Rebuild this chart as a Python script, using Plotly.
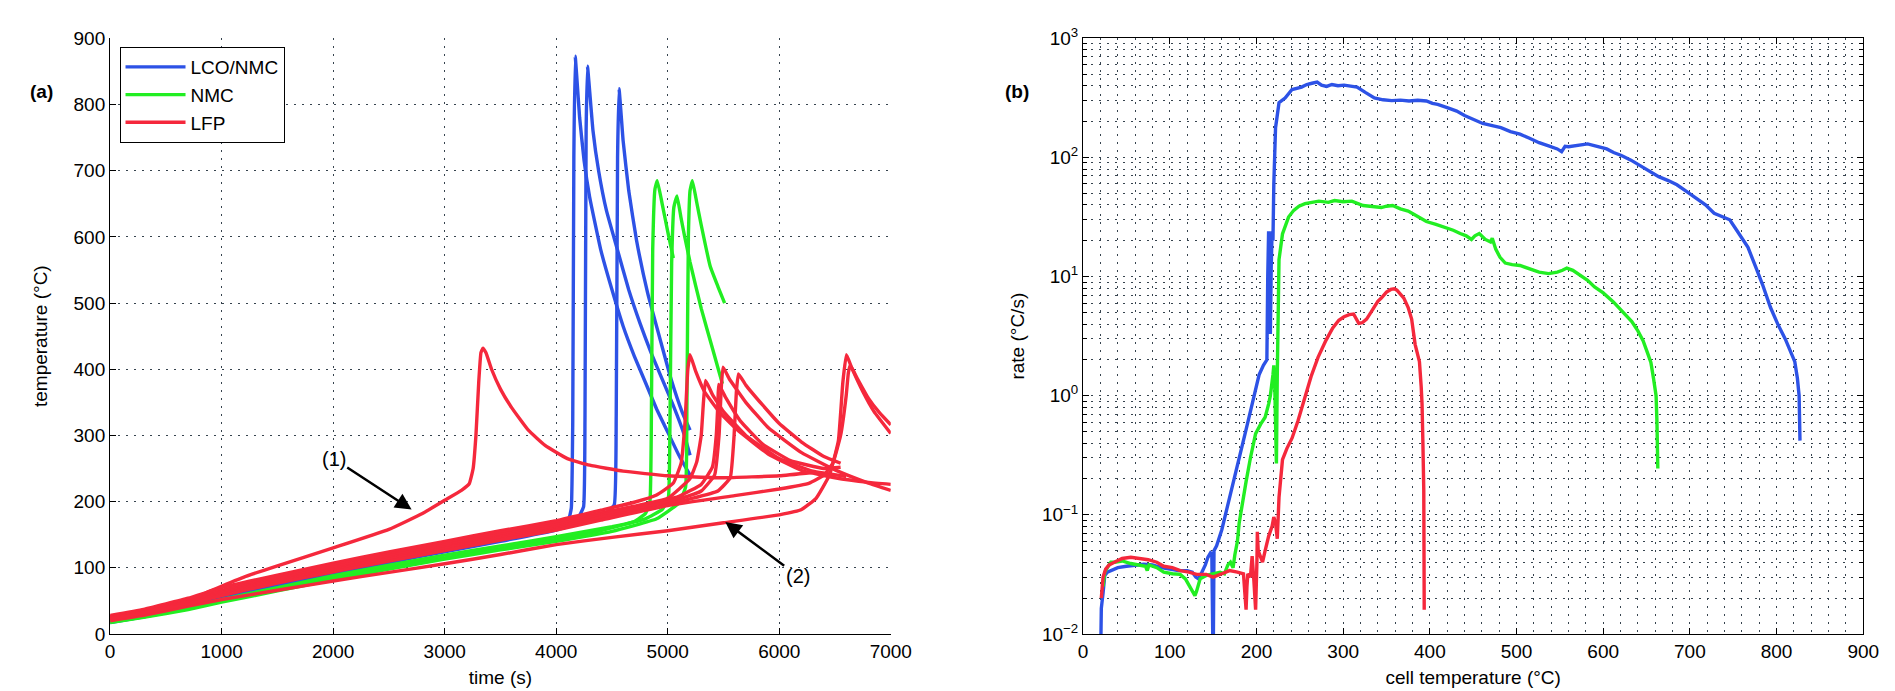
import plotly.graph_objects as go

# ---------------- Panel (a): temperature vs time ----------------
lco_1_time = [0, 300, 700, 1000, 1500, 2000, 2500, 3000, 3500, 3900, 4050, 4110, 4135, 4148, 4158, 4170, 4185, 4210, 4250, 4300, 4400, 4500, 4600, 4700, 4800, 4900, 5000, 5100, 5200]
lco_1_temp = [18, 27, 40, 53, 73, 92, 110, 126, 142, 155, 163, 172, 190, 320, 720, 873, 840, 780, 715, 660, 580, 520, 465, 420, 380, 340, 305, 270, 240]
lco_2_time = [0, 300, 700, 1000, 1500, 2000, 2500, 3000, 3500, 3900, 4100, 4200, 4245, 4258, 4268, 4280, 4300, 4330, 4380, 4450, 4550, 4650, 4750, 4850, 4950, 5050, 5150, 5200]
lco_2_temp = [19, 28, 42, 55, 75, 94, 112, 128, 144, 158, 167, 177, 192, 330, 760, 858, 820, 760, 700, 640, 580, 520, 470, 425, 385, 345, 300, 270]
lco_3_time = [0, 300, 700, 1000, 1500, 2000, 2500, 3000, 3500, 4000, 4300, 4450, 4520, 4538, 4550, 4563, 4600, 4650, 4720, 4820, 4940, 5030, 5130, 5200]
lco_3_temp = [17, 26, 39, 52, 71, 90, 108, 124, 140, 157, 172, 183, 195, 330, 720, 824, 745, 670, 595, 515, 440, 385, 335, 308]

nmc_1_time = [0, 300, 700, 1000, 1500, 2000, 2500, 3000, 3500, 4000, 4400, 4700, 4800, 4840, 4852, 4865, 4885, 4906, 4950, 5000, 5050]
nmc_1_temp = [18, 26, 38, 50, 67, 84, 100, 115, 129, 143, 156, 170, 182, 200, 300, 580, 672, 685, 650, 608, 568]
nmc_2_time = [0, 300, 700, 1000, 1500, 2000, 2500, 3000, 3500, 4000, 4500, 4800, 4950, 5005, 5020, 5035, 5055, 5083, 5120, 5150, 5200, 5300, 5400, 5490]
nmc_2_temp = [19, 27, 40, 52, 70, 88, 104, 119, 133, 147, 162, 174, 188, 205, 320, 560, 645, 662, 628, 602, 562, 492, 432, 378]
nmc_3_time = [0, 300, 700, 1000, 1500, 2000, 2500, 3000, 3500, 4000, 4500, 4900, 5100, 5160, 5172, 5185, 5200, 5221, 5260, 5300, 5380, 5450, 5510]
nmc_3_temp = [17, 25, 37, 48, 65, 82, 98, 113, 127, 140, 155, 174, 198, 222, 350, 600, 670, 685, 652, 618, 556, 525, 500]

lfp_1_time = [0, 300, 700, 900, 1200, 1500, 2000, 2500, 2800, 3000, 3150, 3220, 3255, 3280, 3305, 3325, 3343, 3370, 3420, 3500, 3600, 3750, 3900, 4100, 4300, 4600, 5000, 5500, 6000, 6300]
lfp_1_temp = [26, 34, 50, 65, 86, 103, 130, 158, 182, 202, 217, 227, 250, 300, 380, 425, 432, 425, 400, 370, 342, 308, 285, 265, 255, 246, 239, 236, 239, 244]
lfp_2_time = [0, 300, 700, 1000, 1500, 2000, 2500, 3000, 3500, 4000, 4400, 4700, 4900, 5050, 5120, 5155, 5180, 5200, 5250, 5330, 5470, 5620, 5900, 6200, 6500, 6800, 7000]
lfp_2_temp = [28, 37, 54, 70, 89, 107, 124, 140, 156, 171, 187, 199, 210, 228, 258, 320, 400, 422, 397, 366, 334, 309, 272, 247, 236, 229, 226]
lfp_3_time = [0, 300, 700, 1000, 1500, 2000, 2500, 3000, 3500, 4000, 4400, 4700, 5000, 5200, 5260, 5300, 5320, 5339, 5400, 5500, 5700, 6000, 6300, 6600]
lfp_3_temp = [26, 35, 51, 66, 86, 104, 120, 137, 153, 168, 183, 193, 205, 235, 260, 300, 350, 383, 362, 336, 300, 265, 246, 238]
lfp_4_time = [0, 300, 700, 1000, 1500, 2000, 2500, 3000, 3500, 4000, 4400, 4800, 5100, 5300, 5400, 5435, 5450, 5457, 5520, 5650, 5850, 6100, 6400, 6550]
lfp_4_temp = [25, 34, 49, 64, 83, 101, 118, 134, 150, 165, 181, 194, 208, 226, 252, 300, 350, 377, 357, 322, 287, 262, 250, 252]
lfp_5_time = [0, 300, 700, 1000, 1500, 2000, 2500, 3000, 3500, 4000, 4400, 4800, 5100, 5300, 5420, 5460, 5480, 5496, 5550, 5700, 5900, 6200, 6500, 6800, 7000]
lfp_5_temp = [24, 33, 48, 62, 81, 98, 115, 131, 147, 162, 179, 192, 204, 216, 240, 300, 372, 403, 386, 350, 312, 274, 248, 228, 217]
lfp_6_time = [0, 300, 700, 1000, 1500, 2000, 2500, 3000, 3500, 4000, 4400, 4800, 5200, 5450, 5560, 5595, 5615, 5634, 5700, 5850, 6000, 6200, 6400, 6550]
lfp_6_temp = [23, 32, 47, 60, 79, 96, 113, 129, 145, 159, 176, 188, 204, 216, 236, 300, 365, 393, 376, 346, 318, 290, 268, 258]
lfp_7_time = [0, 300, 700, 1000, 1500, 2000, 2500, 3000, 3500, 4000, 4500, 5000, 5500, 6000, 6200, 6330, 6450, 6530, 6570, 6602, 6650, 6750, 6850, 7000]
lfp_7_temp = [20, 28, 42, 52, 66, 80, 93, 106, 120, 135, 146, 156, 168, 180, 188, 205, 240, 292, 380, 422, 402, 366, 336, 303]
lfp_8_time = [0, 300, 700, 1000, 1500, 2000, 2500, 3000, 3500, 4000, 4400, 5000, 5600, 6000, 6270, 6400, 6480, 6550, 6600, 6620, 6637, 6700, 6800, 6900, 7000]
lfp_8_temp = [22, 31, 45, 58, 77, 94, 110, 126, 142, 157, 172, 194, 209, 219, 228, 240, 258, 300, 360, 395, 406, 386, 356, 334, 316]

# ---------------- Panel (b): rate vs cell temperature ----------------
rate_lco_T = [20, 21, 23, 25, 28, 33, 40, 50, 60, 70, 80, 90, 100, 110, 120, 126, 130, 133, 137, 141, 144, 147, 148.5, 149, 150, 151, 154, 160, 165, 169, 175, 180, 188, 195, 203, 208, 212, 213, 214, 215, 216, 217, 218, 219, 220, 222, 226, 233, 241, 252, 258, 264, 270, 275, 281, 287, 294, 301, 308, 316, 326, 336, 346, 356, 366, 376, 386, 396, 403, 409, 420, 431, 440, 450, 461, 472, 482, 493, 504, 515, 526, 537, 547, 552, 556, 560, 570, 582, 593, 604, 612, 621, 632, 643, 654, 664, 675, 685, 696, 707, 718, 728, 737, 746, 754, 760, 767, 776, 784, 793, 802, 810, 816, 821, 824, 826, 827]
rate_lco_v = [0.005, 0.0164, 0.022, 0.031, 0.033, 0.034, 0.036, 0.037, 0.038, 0.0385, 0.038, 0.036, 0.035, 0.034, 0.034, 0.033, 0.030, 0.029, 0.033, 0.038, 0.044, 0.048, 0.047, 0.005, 0.005, 0.05, 0.055, 0.075, 0.105, 0.14, 0.22, 0.3, 0.52, 0.85, 1.5, 1.8, 2.0, 10, 24, 4, 3.3, 12, 24, 20, 60, 178, 288, 316, 372, 390, 410, 420, 430, 405, 395, 410, 400, 405, 395, 390, 350, 316, 305, 300, 303, 298, 302, 298, 285, 279, 262, 245, 225, 210, 193, 185, 178, 165, 157, 145, 133, 125, 118, 112, 124, 123, 127, 130, 124, 118, 110, 104, 95, 85, 76, 69, 64, 59, 52, 46, 40, 34, 32, 30, 24.5, 21, 17.6, 12, 8.5, 5.5, 3.9, 3.0, 2.4, 1.93, 1.4, 1.0, 0.42]

rate_nmc_T = [23, 25, 28, 32, 36, 45, 55, 65, 72, 74, 76, 85, 93, 103, 112, 118, 123, 127, 129, 131, 135, 142, 150, 158, 163, 167, 170, 173, 175, 178, 180, 184, 188, 193, 199, 205, 210, 214, 216, 219, 220, 221, 222, 223, 224, 225, 226, 230, 237, 243, 249, 256, 264, 272, 283, 290, 300, 310, 323, 334, 344, 350, 357, 366, 375, 386, 396, 407, 418, 427, 435, 442, 448, 452, 457, 464, 470, 472, 476, 481, 487, 495, 504, 515, 526, 537, 547, 553, 558, 565, 573, 582, 590, 600, 612, 622, 633, 640, 646, 651, 655, 658, 661, 662, 663]
rate_nmc_v = [0.025, 0.033, 0.036, 0.04, 0.04, 0.041, 0.039, 0.038, 0.037, 0.034, 0.038, 0.036, 0.033, 0.032, 0.0316, 0.029, 0.025, 0.022, 0.021, 0.023, 0.029, 0.031, 0.032, 0.033, 0.032, 0.038, 0.04, 0.036, 0.046, 0.06, 0.085, 0.13, 0.19, 0.3, 0.48, 0.58, 0.66, 0.85, 1.0, 1.5, 1.8, 1.3, 0.6, 0.27, 1.5, 6, 13.9, 22.8, 31.6, 36, 39, 41, 42, 43, 42, 43.5, 42.5, 43, 39.5, 38.5, 38, 39, 39.5, 37, 35.5, 32, 29, 27.5, 26, 24.5, 23, 22, 20.5, 22, 23, 20.5, 19.5, 21, 17, 14.5, 13, 12.6, 12.4, 11.7, 10.9, 10.6, 10.9, 11.3, 11.8, 11.3, 10.4, 9.3, 8.2, 7.3, 6.1, 5.1, 4.2, 3.5, 2.9, 2.3, 1.9, 1.4, 1.0, 0.6, 0.245]

rate_lfp_T = [21, 23, 26, 30, 36, 45, 55, 65, 75, 85, 93, 103, 112, 122, 131, 142, 150, 160, 169, 178, 185, 187, 188, 189, 190, 193, 195, 197, 199, 200.5, 201, 202, 204, 207, 210, 214, 218, 220, 222, 224, 226, 230, 235, 241, 248, 256, 263, 271, 280, 288, 295, 301, 307, 312, 314, 318, 322, 327, 332, 336, 340, 344, 350, 355, 359, 362, 366, 370, 375, 379, 383, 386, 388, 390, 391, 392, 393, 393.5]
rate_lfp_v = [0.02, 0.03, 0.035, 0.038, 0.04, 0.043, 0.044, 0.043, 0.042, 0.04, 0.037, 0.036, 0.034, 0.033, 0.0316, 0.0316, 0.03, 0.032, 0.034, 0.033, 0.032, 0.02, 0.016, 0.025, 0.032, 0.03, 0.045, 0.028, 0.016, 0.04, 0.072, 0.05, 0.045, 0.04, 0.05, 0.066, 0.08, 0.096, 0.085, 0.063, 0.14, 0.29, 0.36, 0.44, 0.62, 1.0, 1.45, 2.1, 2.9, 3.7, 4.3, 4.6, 4.8, 4.85, 4.6, 4.05, 4.1, 4.4, 5.0, 5.6, 6.2, 6.6, 7.4, 7.8, 7.9, 7.7, 7.2, 6.6, 5.5, 4.4, 2.7, 2.2, 1.93, 1.2, 0.85, 0.4, 0.16, 0.016]

series_names = ["LCO/NMC", "NMC", "LFP"]
series_colors = ["#2d52e6", "#22ee22", "#f5283c"]

# tick labels for the log axis
log_tickvals = [0.01, 0.1, 1, 10, 100, 1000]
log_ticktext = ["10<sup>\u22122</sup>", "10<sup>\u22121</sup>", "10<sup>0</sup>",
                "10<sup>1</sup>", "10<sup>2</sup>", "10<sup>3</sup>"]

W, H = 1895, 691
FONT = "Liberation Sans, Arial, Helvetica, sans-serif"
GRID = "#36434e"
DASH = "2px,6px"
LW = 3.4

fig = go.Figure()

panel_a = [
    (0, [(lco_1_time, lco_1_temp), (lco_2_time, lco_2_temp), (lco_3_time, lco_3_temp)]),
    (1, [(nmc_1_time, nmc_1_temp), (nmc_2_time, nmc_2_temp), (nmc_3_time, nmc_3_temp)]),
    (2, [(lfp_1_time, lfp_1_temp), (lfp_2_time, lfp_2_temp), (lfp_3_time, lfp_3_temp),
         (lfp_4_time, lfp_4_temp), (lfp_5_time, lfp_5_temp), (lfp_6_time, lfp_6_temp),
         (lfp_7_time, lfp_7_temp), (lfp_8_time, lfp_8_temp)]),
]
for si, curves in panel_a:
    for ci, (tx, ty) in enumerate(curves):
        fig.add_trace(go.Scatter(
            x=tx, y=ty, mode="lines", name=series_names[si],
            legendgroup=series_names[si], showlegend=(ci == 0),
            line=dict(color=series_colors[si], width=LW, shape="spline", smoothing=0.35),
            xaxis="x", yaxis="y"))

panel_b = [(0, rate_lco_T, rate_lco_v), (1, rate_nmc_T, rate_nmc_v), (2, rate_lfp_T, rate_lfp_v)]
for si, tx, ty in panel_b:
    fig.add_trace(go.Scatter(
        x=tx, y=ty, mode="lines", name=series_names[si],
        legendgroup=series_names[si], showlegend=False,
        line=dict(color=series_colors[si], width=LW),
        xaxis="x2", yaxis="y2"))

xa_dom = [98.5 / W, 890 / W]
xb_dom = [1085 / W, 1876 / W]
y_dom = [1 - 635 / H, 1 - 18 / H]

axis_common = dict(
    showline=True, linecolor="black", linewidth=1.2,
    ticks="inside", ticklen=6, tickcolor="black",
    tickfont=dict(family=FONT, size=19, color="black"),
    showgrid=True, gridcolor=GRID, griddash=DASH, gridwidth=1,
    zeroline=False,
)

minor_y = [k * 10.0 ** e for e in range(-2, 3) for k in range(2, 10)]

fig.update_layout(
    width=W, height=H,
    margin=dict(l=0, r=0, t=0, b=0),
    paper_bgcolor="white", plot_bgcolor="white",
    font=dict(family=FONT, size=19, color="black"),
    showlegend=True,
    legend=dict(x=108 / W, y=1 - 27 / H, xanchor="left", yanchor="top",
                bgcolor="white", bordercolor="black", borderwidth=1,
                font=dict(family=FONT, size=19, color="black"),
                itemwidth=60, tracegroupgap=0),
    xaxis=dict(domain=xa_dom, range=[0, 7000], dtick=1000, tick0=0,
               anchor="y", mirror=False,
               title=dict(text="time (s)", standoff=9, font=dict(size=19)),
               **axis_common),
    yaxis=dict(domain=y_dom, range=[0, 900], dtick=100, tick0=0,
               anchor="x", mirror=False,
               title=dict(text="temperature (\u00b0C)", standoff=20, font=dict(size=19)),
               **axis_common),
    xaxis2=dict(domain=xb_dom, range=[0, 900], dtick=100, tick0=0,
                anchor="y2", mirror="allticks",
                minor=dict(dtick=20, tick0=0, showgrid=True, gridcolor=GRID,
                           griddash=DASH, gridwidth=1, ticks=""),
                title=dict(text="cell temperature (\u00b0C)", standoff=9, font=dict(size=19)),
                **axis_common),
    yaxis2=dict(domain=y_dom, type="log", range=[-2, 3],
                tickmode="array", tickvals=log_tickvals, ticktext=log_ticktext,
                anchor="x2", mirror="allticks",
                minor=dict(tickmode="array", tickvals=minor_y, ticks="inside", ticklen=4,
                           tickcolor="black", showgrid=True, gridcolor=GRID,
                           griddash=DASH, gridwidth=1),
                title=dict(text="rate (\u00b0C/s)", standoff=12, font=dict(size=19)),
                **axis_common),
)

# panel labels
fig.add_annotation(text="<b>(a)</b>", x=15 / W, y=1 - 60 / H, xref="paper", yref="paper",
                   showarrow=False, font=dict(family=FONT, size=19, color="black"))
fig.add_annotation(text="<b>(b)</b>", x=1018 / W, y=1 - 60 / H, xref="paper", yref="paper",
                   showarrow=False, font=dict(family=FONT, size=19, color="black"))

# arrows (1) and (2)
fig.add_annotation(text="(1)", x=2703, y=188, ax=2005, ay=265, xref="x", yref="y",
                   axref="x", ayref="y", showarrow=True, arrowhead=2, arrowsize=1.3,
                   arrowwidth=2.5, arrowcolor="black", standoff=0,
                   font=dict(family=FONT, size=20, color="black"))
fig.add_annotation(text="(2)", x=5516, y=169, ax=6165, ay=88, xref="x", yref="y",
                   axref="x", ayref="y", showarrow=True, arrowhead=2, arrowsize=1.3,
                   arrowwidth=2.5, arrowcolor="black", standoff=0,
                   font=dict(family=FONT, size=20, color="black"))

fig.write_html("out.html")
